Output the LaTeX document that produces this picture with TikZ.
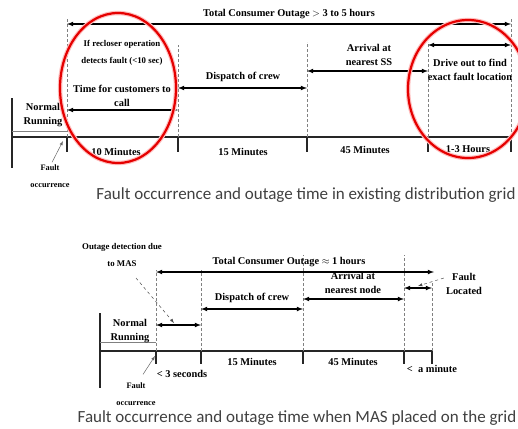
\documentclass[tikz,border=0pt]{standalone}
\usepackage{fontspec}
\setmainfont{Liberation Serif}
\newfontfamily\capfont{Carlito}
\usetikzlibrary{positioning}
\usetikzlibrary{arrows}
\tikzset{%
  lbl/.style      = {font=\bfseries\fontsize{10.4}{14.5}\selectfont, align=center, inner sep=0pt},
  small/.style    = {font=\bfseries\fontsize{8.8}{16.5}\selectfont, align=center, inner sep=0pt},
  tiny/.style     = {font=\bfseries\fontsize{8.3}{17}\selectfont, align=center, inner sep=0pt},
  caption/.style  = {font=\capfont\fontsize{17}{19}\selectfont, text=black!75, inner sep=0pt},
  axis/.style     = {line width=1.1pt, black!85},
  guide/.style    = {dashed, gray, line width=0.5pt, dash pattern=on 3pt off 2pt},
  span/.style     = {<->, line width=1.1pt}, % double arrow
  pointer/.style  = {->, gray!80!black, line width=0.5pt},
  ring/.style     = {draw=red!90!black, line width=2.2pt}
}

\begin{document}
\begin{tikzpicture}[x=1pt, y=-1pt, >=latex]
  \useasboundingbox (0,0) rectangle (518,428);

  % ---- existing grid ----
  \coordinate (t0) at (12,137);
  \coordinate (t1) at (67,137);
  \coordinate (t2) at (178,137);
  \coordinate (t3) at (307,137);
  \coordinate (t4) at (428,137);
  \coordinate (t5) at (511,137);

  \draw[axis] (12,98) -- (12,168);
  \draw[gray, line width=0.8pt] (12,131) -- (67,131);
  \draw[axis] (t0) -- (t5);
  \foreach \t in {t1,t2,t3,t4,t5}
    \draw[axis] (\t) -- ++(0,15);
  \foreach \t/\top in {t1/18, t2/45, t3/42, t4/42, t5/18}
    \draw[guide] (\t) -- (\t |- 0,\top);

  \draw[span] (t1 |- 0,24) -- (t5 |- 0,24);
  \draw[span] (t1 |- 0,110) -- (t2 |- 0,110);
  \draw[span] (t2 |- 0,88) -- (t3 |- 0,88);
  \draw[span] (t3 |- 0,71) -- (t4 |- 0,71);
  \draw[span] (t4 |- 0,45) -- (t5 |- 0,45);

  \draw node at (289,14) [lbl] (total1) {Total Consumer Outage $>$ 3 to 5 hours};
  \draw node at (122,53) [small] (recloser) {If recloser operation\\detects fault (<10 sec)};
  \draw node at (122,96) [lbl] (call) {Time for customers to\\call};
  \draw node at (243,77) [lbl] (dispatch1) {Dispatch of crew};
  \draw node at (369,55) [lbl] (arrival1) {Arrival at\\nearest SS};
  \draw node at (470,70) [lbl] (drive) {Drive out to find\\exact fault location};
  \draw node at (43,115) [lbl] (normal1) {Normal\\Running};
  \draw node at (116,152) [lbl] (ten) {10 Minutes};
  \draw node at (243,152) [lbl] (fifteen1) {15 Minutes};
  \draw node at (365,150) [lbl] (fortyfive1) {45 Minutes};
  \draw node at (468,149) [lbl] (hours) {1-3 Hours};
  \draw node at (50,176) [tiny] (fault1) {Fault\\occurrence};
  \draw[pointer] (fault1.north) ++(2,-2) -- ([xshift=-4pt,yshift=-4pt]t1);

  \draw[red!25, line width=4.5pt] (118,88) ellipse [x radius=58pt, y radius=75pt];
  \draw[ring] (118,88) ellipse [x radius=58pt, y radius=75pt];
  \draw[red!25, line width=4.5pt] (468,89) ellipse [x radius=60pt, y radius=69pt];
  \draw[ring] (468,89) ellipse [x radius=60pt, y radius=69pt];

  \draw node at (306,195) [caption] (cap1) {Fault occurrence and outage time in existing distribution grid};

  % ---- with MAS ----
  \coordinate (m0) at (100,351);
  \coordinate (m1) at (156,351);
  \coordinate (m2) at (201,351);
  \coordinate (m3) at (303,351);
  \coordinate (m4) at (404,351);
  \coordinate (m5) at (432,351);

  \draw[axis] (100,313) -- (100,388);
  \draw[gray, line width=0.8pt] (100,342) -- (156,342);
  \draw[axis] (m0) -- (m5);
  \foreach \t in {m1,m2,m3,m4,m5}
    \draw[axis] (\t) -- ++(0,13);
  \foreach \t/\top in {m1/270, m2/270, m3/255, m4/255, m5/283}
    \draw[guide] (\t) -- (\t |- 0,\top);

  \draw[span] (m1 |- 0,272) -- (434,272);
  \draw[span] (m1 |- 0,325) -- (m2 |- 0,325);
  \draw[span] (m2 |- 0,309) -- (m3 |- 0,309);
  \draw[span] (m3 |- 0,299) -- (m4 |- 0,299);
  \draw[span] (m4 |- 0,288) -- (m5 |- 0,288);

  \draw node at (289,262) [lbl] (total2) {Total Consumer Outage $\approx$ 1 hours};
  \draw node at (122,255) [small] (mas) {Outage detection due\\to MAS};
  \draw[pointer, dashed, black!70] (136,278) -- (174,323);
  \draw node at (252,298) [lbl] (dispatch2) {Dispatch of crew};
  \draw node at (353,283) [lbl] (arrival2) {Arrival at\\nearest node};
  \draw node at (464,284) [lbl] (located) {Fault\\Located};
  \draw[pointer, dashed, black!70] (located.west) ++(-2,-6) -- (418,286);
  \draw node at (130,331) [lbl] (normal2) {Normal\\Running};
  \draw node at (182,374) [lbl] (secs) {< 3 seconds};
  \draw node at (252,362) [lbl] (fifteen2) {15 Minutes};
  \draw node at (353,362) [lbl] (fortyfive2) {45 Minutes};
  \draw node at (432,369) [lbl] (minute) {<\ \ a minute};
  \draw node at (136,394) [tiny] (fault2) {Fault\\occurrence};
  \draw[pointer] (fault2.north) ++(7,-8) -- ([xshift=-1pt,yshift=-5pt]m1);

  \draw node at (297,418) [caption] (cap2) {Fault occurrence and outage time when MAS placed on the grid};
\end{tikzpicture}
\end{document}
